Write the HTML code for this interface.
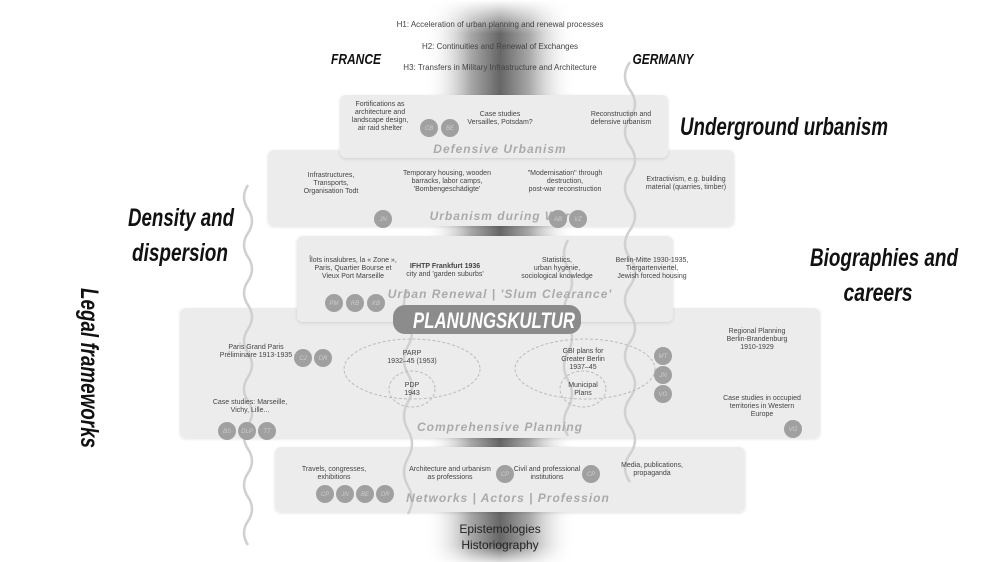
<!DOCTYPE html>
<html><head><meta charset="utf-8"><style>
html,body{margin:0;padding:0;background:#fff;}
svg{display:block}
.s{font-family:"Liberation Sans",sans-serif;font-size:7px;fill:#444;text-anchor:middle}
.t{font-family:"Liberation Sans",sans-serif;font-style:italic;font-weight:bold;font-size:12px;fill:#aaa;text-anchor:middle;letter-spacing:1px}
.b{font-family:"Liberation Sans",sans-serif;font-style:italic;font-weight:bold;fill:#111;text-anchor:middle}
.c{fill:#a0a0a0}
.ct{font-family:"Liberation Sans",sans-serif;font-style:italic;font-size:6px;fill:#ccc;text-anchor:middle}
</style></head><body>
<svg width="1000" height="562" viewBox="0 0 1000 562">
<defs>
<linearGradient id="band" x1="0" x2="1" y1="0" y2="0">
<stop offset="0" stop-color="#fff" stop-opacity="0"/>
<stop offset="0.3" stop-color="#aaa"/>
<stop offset="0.5" stop-color="#666"/>
<stop offset="0.7" stop-color="#aaa"/>
<stop offset="1" stop-color="#fff" stop-opacity="0"/>
</linearGradient>
<linearGradient id="fade" x1="0" x2="0" y1="0" y2="1">
<stop offset="0" stop-color="#fff" stop-opacity="1"/>
<stop offset="0.06" stop-color="#fff" stop-opacity="0"/>
<stop offset="0.97" stop-color="#fff" stop-opacity="0"/>
<stop offset="1" stop-color="#fff" stop-opacity="0.8"/>
</linearGradient>
<filter id="sh" x="-5%" y="-10%" width="110%" height="130%"><feDropShadow dx="0" dy="1" stdDeviation="1.5" flood-color="#000" flood-opacity="0.12"/></filter>
</defs>
<rect x="425" y="0" width="150" height="562" fill="url(#band)"/>
<rect x="425" y="0" width="150" height="562" fill="url(#fade)"/>

<text class="s" x="500" y="27" style="font-size:8px">H1: Acceleration of urban planning and renewal processes</text>
<text class="s" x="500" y="49" style="font-size:8px">H2: Continuities and Renewal of Exchanges</text>
<text class="s" x="500" y="70" style="font-size:8px">H3: Transfers in Military Infrastructure and Architecture</text>
<text class="b" x="356" y="64" style="font-size:15px" textLength="50" lengthAdjust="spacingAndGlyphs">FRANCE</text>
<text class="b" x="663" y="64" style="font-size:15px" textLength="61" lengthAdjust="spacingAndGlyphs">GERMANY</text>

<rect x="180" y="308" width="640" height="130" rx="6" fill="#ececec" filter="url(#sh)"/>
<rect x="268" y="150" width="466" height="76" rx="6" fill="#ececec" filter="url(#sh)"/>
<rect x="340" y="95" width="328" height="63" rx="6" fill="#ececec" filter="url(#sh)"/>
<rect x="297" y="236" width="376" height="86" rx="6" fill="#ececec" filter="url(#sh)"/>
<rect x="275" y="447" width="470" height="65" rx="6" fill="#ececec" filter="url(#sh)"/>

<g fill="none" stroke="#d0d0d0" stroke-width="2.5">
<path d="M248 185 q-8 12 0 24 t0 24 t0 24 t0 24 t0 24 t0 24 t0 24 t0 24 t0 24 t0 24 t0 24 t0 24 t0 24 t0 24 t0 24"/>
<path d="M630 62 q-10 14 0 28 t0 28 t0 28 t0 28 t0 28 t0 28 t0 28 t0 28 t0 28 t0 28 t0 28 t0 28 t0 28 t0 28 t0 28"/>
<path d="M408 290 q-8 14 0 28 t0 28 t0 28 t0 28 t0 28 t0 28 t0 28 t0 28"/>
<path d="M568 240 q-8 14 0 28 t0 28 t0 28 t0 28 t0 28 t0 28 t0 28"/>
</g>

<text class="s" x="380" y="106">Fortifications as</text>
<text class="s" x="380" y="114">architecture and</text>
<text class="s" x="380" y="122">landscape design,</text>
<text class="s" x="380" y="130">air raid shelter</text>
<text class="s" x="500" y="116">Case studies</text>
<text class="s" x="500" y="124">Versailles, Potsdam?</text>
<text class="s" x="621" y="116">Reconstruction and</text>
<text class="s" x="621" y="124">defensive urbanism</text>
<circle class="c" cx="429" cy="128" r="9"/><text class="ct" x="429" y="130">CB</text>
<circle class="c" cx="450" cy="128" r="9"/><text class="ct" x="450" y="130">BE</text>
<text class="t" x="500" y="153">Defensive Urbanism</text>

<text class="s" x="331" y="177">Infrastructures,</text>
<text class="s" x="331" y="185">Transports,</text>
<text class="s" x="331" y="193">Organisation Todt</text>
<text class="s" x="447" y="175">Temporary housing, wooden</text>
<text class="s" x="447" y="183">barracks, labor camps,</text>
<text class="s" x="447" y="191">'Bombengeschädigte'</text>
<text class="s" x="565" y="175">"Modernisation" through</text>
<text class="s" x="565" y="183">destruction,</text>
<text class="s" x="565" y="191">post-war reconstruction</text>
<text class="s" x="686" y="181">Extractivism, e.g. building</text>
<text class="s" x="686" y="189">material (quarries, timber)</text>
<text class="t" x="500" y="220">Urbanism during War</text>
<circle class="c" cx="383" cy="219" r="9"/><text class="ct" x="383" y="221">JN</text>
<circle class="c" cx="558" cy="219" r="9"/><text class="ct" x="558" y="221">AB</text>
<circle class="c" cx="578" cy="219" r="9"/><text class="ct" x="578" y="221">VZ</text>

<text class="s" x="353" y="262">Îlots insalubres, la « Zone »,</text>
<text class="s" x="353" y="270">Paris, Quartier Bourse et</text>
<text class="s" x="353" y="278">Vieux Port Marseille</text>
<text class="s" x="445" y="268" style="font-weight:bold">IFHTP Frankfurt 1936</text>
<text class="s" x="445" y="276">city and 'garden suburbs'</text>
<text class="s" x="557" y="262">Statistics,</text>
<text class="s" x="557" y="270">urban hygenie,</text>
<text class="s" x="557" y="278">sociological knowledge</text>
<text class="s" x="652" y="262">Berlin-Mitte 1930-1935,</text>
<text class="s" x="652" y="270">Tiergartenviertel,</text>
<text class="s" x="652" y="278">Jewish forced housing</text>
<text class="t" x="500" y="298">Urban Renewal | 'Slum Clearance'</text>
<circle class="c" cx="334" cy="303" r="9"/><text class="ct" x="334" y="305">PM</text>
<circle class="c" cx="355" cy="303" r="9"/><text class="ct" x="355" y="305">RB</text>
<circle class="c" cx="376" cy="303" r="9"/><text class="ct" x="376" y="305">KB</text>

<rect x="393" y="305" width="188" height="29" rx="12" fill="#8c8c8c"/>
<text x="494" y="328" textLength="162" lengthAdjust="spacingAndGlyphs" style="font-family:'Liberation Sans',sans-serif;font-style:italic;font-weight:bold;font-size:22px;fill:#fff;text-anchor:middle">PLANUNGSKULTUR</text>

<text class="s" x="256" y="349">Paris Grand Paris</text>
<text class="s" x="256" y="357">Préliminaire 1913-1935</text>
<circle class="c" cx="303" cy="358" r="9"/><text class="ct" x="303" y="360">CJ</text>
<circle class="c" cx="323" cy="358" r="9"/><text class="ct" x="323" y="360">OR</text>
<ellipse cx="412" cy="369" rx="68" ry="30" fill="none" stroke="#bbb" stroke-dasharray="3,2"/>
<ellipse cx="412" cy="389" rx="23" ry="18" fill="none" stroke="#bbb" stroke-dasharray="3,2"/>
<text class="s" x="412" y="355">PARP</text>
<text class="s" x="412" y="363">1932–45 (1953)</text>
<text class="s" x="412" y="387">PDP</text>
<text class="s" x="412" y="395">1943</text>
<ellipse cx="585" cy="369" rx="70" ry="30" fill="none" stroke="#bbb" stroke-dasharray="3,2"/>
<ellipse cx="583" cy="389" rx="23" ry="18" fill="none" stroke="#bbb" stroke-dasharray="3,2"/>
<text class="s" x="583" y="353">GBI plans for</text>
<text class="s" x="583" y="361">Greater Berlin</text>
<text class="s" x="583" y="369">1937–45</text>
<text class="s" x="583" y="387">Municipal</text>
<text class="s" x="583" y="395">Plans</text>
<circle class="c" cx="663" cy="356" r="9"/><text class="ct" x="663" y="358">MT</text>
<circle class="c" cx="663" cy="375" r="9"/><text class="ct" x="663" y="377">JN</text>
<circle class="c" cx="663" cy="394" r="9"/><text class="ct" x="663" y="396">VG</text>
<text class="s" x="757" y="333">Regional Planning</text>
<text class="s" x="757" y="341">Berlin-Brandenburg</text>
<text class="s" x="757" y="349">1910-1929</text>
<text class="s" x="250" y="404">Case studies: Marseille,</text>
<text class="s" x="250" y="412">Vichy, Lille...</text>
<circle class="c" cx="227" cy="431" r="9"/><text class="ct" x="227" y="433">BS</text>
<circle class="c" cx="247" cy="431" r="9"/><text class="ct" x="247" y="433">DLP</text>
<circle class="c" cx="267" cy="431" r="9"/><text class="ct" x="267" y="433">TT</text>
<text class="s" x="762" y="400">Case studies in occupied</text>
<text class="s" x="762" y="408">territories in Western</text>
<text class="s" x="762" y="416">Europe</text>
<circle class="c" cx="793" cy="429" r="9"/><text class="ct" x="793" y="431">VG</text>
<text class="t" x="500" y="431">Comprehensive Planning</text>

<text class="s" x="334" y="471">Travels, congresses,</text>
<text class="s" x="334" y="479">exhibitions</text>
<text class="s" x="450" y="471">Architecture and urbanism</text>
<text class="s" x="450" y="479">as professions</text>
<circle class="c" cx="505" cy="474" r="9"/><text class="ct" x="505" y="476">CP</text>
<text class="s" x="547" y="471">Civil and professional</text>
<text class="s" x="547" y="479">institutions</text>
<circle class="c" cx="591" cy="474" r="9"/><text class="ct" x="591" y="476">CP</text>
<text class="s" x="652" y="467">Media, publications,</text>
<text class="s" x="652" y="475">propaganda</text>
<circle class="c" cx="325" cy="494" r="9"/><text class="ct" x="325" y="496">CP</text>
<circle class="c" cx="345" cy="494" r="9"/><text class="ct" x="345" y="496">JN</text>
<circle class="c" cx="365" cy="494" r="9"/><text class="ct" x="365" y="496">BE</text>
<circle class="c" cx="385" cy="494" r="9"/><text class="ct" x="385" y="496">OR</text>
<text class="t" x="508" y="502">Networks | Actors | Profession</text>

<text class="s" x="500" y="533" style="font-size:12px;fill:#222">Epistemologies</text>
<text class="s" x="500" y="549" style="font-size:12px;fill:#222">Historiography</text>

<text class="b" x="784" y="135" style="font-size:25px" textLength="208" lengthAdjust="spacingAndGlyphs">Underground urbanism</text>
<text class="b" x="181" y="226" style="font-size:25px" textLength="106" lengthAdjust="spacingAndGlyphs">Density and</text>
<text class="b" x="180" y="261" style="font-size:25px" textLength="96" lengthAdjust="spacingAndGlyphs">dispersion</text>
<text class="b" x="884" y="266" style="font-size:25px" textLength="148" lengthAdjust="spacingAndGlyphs">Biographies and</text>
<text class="b" x="878" y="301" style="font-size:25px" textLength="69" lengthAdjust="spacingAndGlyphs">careers</text>
<text class="b" transform="translate(81,368) rotate(90)" style="font-size:25px" textLength="160" lengthAdjust="spacingAndGlyphs">Legal frameworks</text>
</svg>
</body></html>
